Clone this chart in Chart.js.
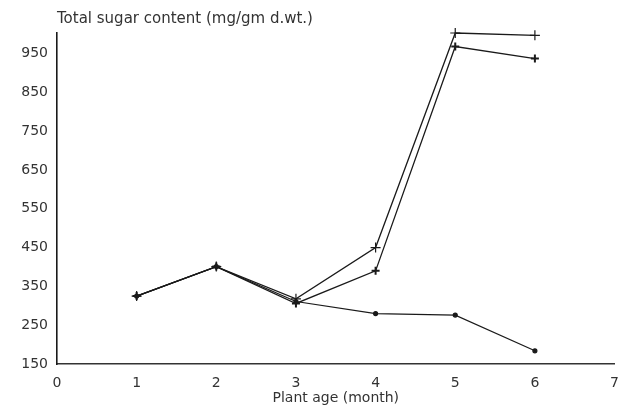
<!DOCTYPE html>
<html>
<head>
<meta charset="utf-8">
<script src="https://cdn.jsdelivr.net/npm/chart.js@4"></script>
<style>
  body { margin: 0; background: #fff; }
</style>
</head>
<body>
<canvas id="myChart" width="630" height="407"></canvas>
<script>
// values
const months = [1, 2, 3, 4, 5, 6];
const sugarA = [325, 401, 318, 450, 1003, 997];
const sugarB = [325, 401, 306, 390, 968, 937];
const sugarC = [325, 401, 311, 280, 276, 184];
const yTicks = [150, 250, 350, 450, 550, 650, 750, 850, 950];
const xTicks = [0, 1, 2, 3, 4, 5, 6, 7];

const yTitle = 'Total sugar content (mg/gm d.wt.)';
const xTitle = 'Plant age (month)';

const ink = '#1a1a1a';
const fontFam = '"DejaVu Sans", sans-serif';

function pts(vals) {
  return months.map((m, i) => ({ x: m, y: vals[i] }));
}

// draws the y title at the top left, above the axis
const topTitle = {
  id: 'topTitle',
  afterDraw(chart) {
    const c = chart.ctx;
    c.save();
    c.font = '15px ' + fontFam;
    c.fillStyle = '#333';
    c.textBaseline = 'middle';
    c.textAlign = 'left';
    c.fillText(yTitle, chart.chartArea.left, 19);
    c.restore();
  }
};

const data = {
  datasets: [{
    label: 'A',
    data: pts(sugarA),
    borderColor: ink,
    borderWidth: 1.3,
    pointStyle: 'cross',
    pointRadius: 5,
    pointBorderWidth: 1.2,
    pointBorderColor: ink,
    tension: 0
  }, {
    label: 'B',
    data: pts(sugarB),
    borderColor: ink,
    borderWidth: 1.3,
    pointStyle: 'cross',
    pointRadius: 4,
    pointBorderWidth: 2,
    pointBorderColor: ink,
    tension: 0
  }, {
    label: 'C',
    data: pts(sugarC),
    borderColor: ink,
    borderWidth: 1.2,
    pointStyle: 'circle',
    pointRadius: 2,
    pointBackgroundColor: ink,
    pointBorderColor: ink,
    tension: 0
  }]
};

const config = {
  type: 'line',
  data,
  options: {
    responsive: false,
    animation: false,
    clip: false,
    layout: { padding: { top: 33, right: 10, left: 0, bottom: 0 } },
    plugins: {
      legend: { display: false },
      tooltip: { enabled: false }
    },
    scales: {
      x: {
        type: 'linear',
        min: 0,
        max: 7,
        afterBuildTicks: s => { s.ticks = xTicks.map(v => ({ value: v })); },
        afterFit: s => { s.height = 43; },
        grid: { display: false, drawTicks: false },
        border: { display: true, color: '#333', width: 1.5 },
        ticks: {
          padding: 11,
          color: '#333',
          font: { family: fontFam, size: 14 }
        },
        title: {
          display: true,
          text: xTitle,
          color: '#333',
          padding: { top: 0, bottom: 0 },
          font: { family: fontFam, size: 14 }
        }
      },
      y: {
        min: 150,
        max: 1003,
        afterBuildTicks: s => { s.ticks = yTicks.map(v => ({ value: v })); },
        afterFit: s => { s.width = 57; },
        grid: { display: false, drawTicks: false },
        border: { display: true, color: '#1a1a1a', width: 1.6 },
        ticks: {
          padding: 9,
          color: '#333',
          font: { family: fontFam, size: 14 }
        }
      }
    }
  },
  plugins: [topTitle]
};

const myChart = new Chart(document.getElementById('myChart'), config);
</script>
</body>
</html>
